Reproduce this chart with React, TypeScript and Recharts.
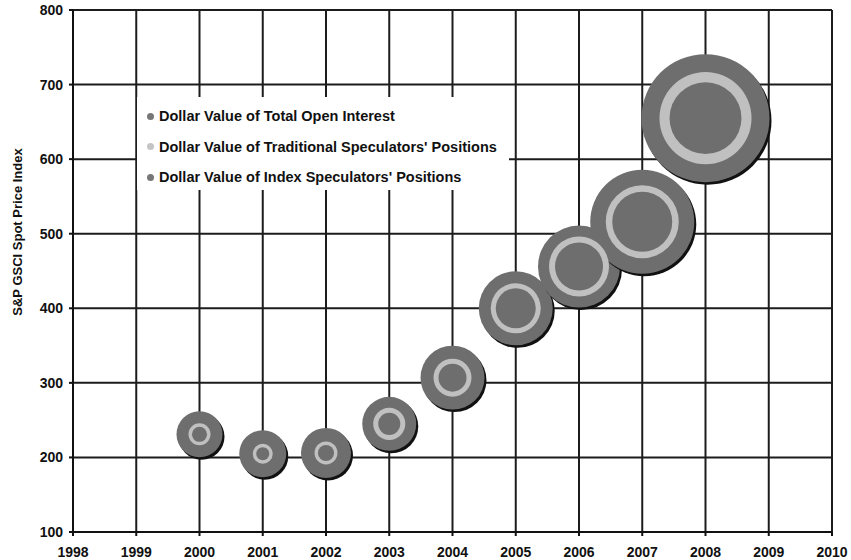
import React from 'react';
import { ScatterChart, Scatter, XAxis, YAxis, ZAxis, CartesianGrid } from 'recharts';

// values (bubble values in arbitrary $ units, area-scaled)
const years = [2000, 2001, 2002, 2003, 2004, 2005, 2006, 2007, 2008];
const spotIndex = [231, 205, 206, 245, 307, 400, 456, 516, 655];
const totalOpenInterest = [27, 28.2, 31.9, 37.2, 52.2, 69.8, 85.8, 138, 209];
const traditionalSpec = [6.2, 5.1, 6.7, 13.1, 18.4, 31.9, 45.9, 68, 108];
const indexSpec = [2.9, 2.2, 3.3, 6.2, 10, 20.4, 29.4, 45.9, 66];

const xTicks = [1998, 1999, 2000, 2001, 2002, 2003, 2004, 2005, 2006, 2007, 2008, 2009, 2010];
const yTicks = [100, 200, 300, 400, 500, 600, 700, 800];

const legendItems = [
  { label: 'Dollar Value of Total Open Interest', color: '#777777' },
  { label: "Dollar Value of Traditional Speculators' Positions", color: '#c4c4c4' },
  { label: "Dollar Value of Index Speculators' Positions", color: '#777777' },
];

const data = years.map((year, i) => ({
  year,
  price: spotIndex[i],
  total: totalOpenInterest[i],
  trad: traditionalSpec[i],
  index: indexSpec[i],
}));

const FONT = '"Liberation Sans", Arial, Helvetica, sans-serif';
const BUBBLE = '#6e6e6e';
const RING = '#c0c0c0';
const Z_DOMAIN: [number, number] = [0, 250];
const Z_RANGE: [number, number] = [0, Math.PI * 70 * 70];

const radiusOf = (p: any) => (p.size != null ? Math.sqrt(p.size / Math.PI) : (p.width || 0) / 2);

const OuterBubble = (p: any) => {
  const r = radiusOf(p);
  return (
    <g>
      <circle cx={p.cx + 2} cy={p.cy + 2.5} r={r} fill="#111" />
      <circle cx={p.cx} cy={p.cy} r={r} fill={BUBBLE} />
    </g>
  );
};

const RingBubble = (p: any) => <circle cx={p.cx} cy={p.cy} r={radiusOf(p)} fill={RING} />;
const InnerBubble = (p: any) => <circle cx={p.cx} cy={p.cy} r={radiusOf(p)} fill={BUBBLE} />;

const tickStyle = { fontSize: 14, fontWeight: 700, fill: '#111', fontFamily: FONT };

export default function App() {
  return (
    <div style={{ position: 'absolute', left: 0, top: 0, width: 851, height: 560, background: '#fff' }}>
      <ScatterChart width={851} height={560} margin={{ top: 10, right: 19, bottom: 0, left: 0 }}>
        <CartesianGrid stroke="#1c1c1c" strokeWidth={2} />
        <XAxis
          type="number"
          dataKey="year"
          domain={[1998, 2010]}
          ticks={xTicks}
          interval={0}
          height={28}
          tick={tickStyle}
          tickSize={4}
          tickMargin={11}
          stroke="#111"
          axisLine={{ stroke: '#111', strokeWidth: 2 }}
          tickLine={{ stroke: '#111', strokeWidth: 2 }}
        />
        <YAxis
          type="number"
          dataKey="price"
          domain={[100, 800]}
          ticks={yTicks}
          interval={0}
          width={73}
          tick={tickStyle}
          tickSize={4}
          tickMargin={6}
          axisLine={{ stroke: '#111', strokeWidth: 2 }}
          tickLine={{ stroke: '#111', strokeWidth: 2 }}
        />
        <ZAxis zAxisId="total" dataKey="total" domain={Z_DOMAIN} range={Z_RANGE} />
        <ZAxis zAxisId="trad" dataKey="trad" domain={Z_DOMAIN} range={Z_RANGE} />
        <ZAxis zAxisId="index" dataKey="index" domain={Z_DOMAIN} range={Z_RANGE} />
        <Scatter
          name="Dollar Value of Total Open Interest"
          data={data}
          zAxisId="total"
          shape={OuterBubble}
          isAnimationActive={false}
        />
        <Scatter
          name="Dollar Value of Traditional Speculators' Positions"
          data={data}
          zAxisId="trad"
          shape={RingBubble}
          isAnimationActive={false}
        />
        <Scatter
          name="Dollar Value of Index Speculators' Positions"
          data={data}
          zAxisId="index"
          shape={InnerBubble}
          isAnimationActive={false}
        />
      </ScatterChart>

      {/* legend box sits over the grid */}
      <div
        style={{
          position: 'absolute',
          left: 137,
          top: 97,
          width: 372,
          height: 93,
          background: '#fff',
          fontFamily: FONT,
          fontWeight: 700,
          fontSize: 14.5,
          color: '#111',
        }}
      >
        {legendItems.map((item, i) => (
          <div
            key={item.label}
            style={{ position: 'absolute', left: 10, top: 10 + i * 30.5, height: 18, display: 'flex', alignItems: 'center', whiteSpace: 'nowrap' }}
          >
            <span style={{ width: 7, height: 7, borderRadius: '50%', background: item.color, marginRight: 5 }} />
            <span>{item.label}</span>
          </div>
        ))}
      </div>

      <div
        style={{
          position: 'absolute',
          left: 17,
          top: 232,
          transform: 'translate(-50%, -50%) rotate(-90deg)',
          whiteSpace: 'nowrap',
          fontFamily: FONT,
          fontWeight: 700,
          fontSize: 13,
          color: '#111',
        }}
      >
        S&amp;P GSCI Spot Price Index
      </div>
    </div>
  );
}
